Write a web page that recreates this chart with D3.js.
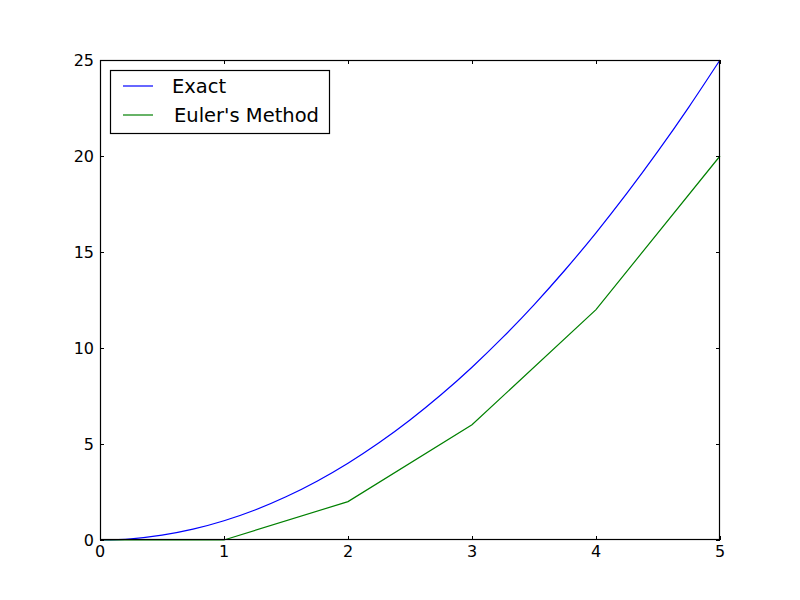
<!DOCTYPE html>
<html><head><meta charset="utf-8">
<script src="https://cdn.jsdelivr.net/npm/d3@7"></script>
<style>body{margin:0;background:#fff}svg{display:block}text{font-family:"DejaVu Sans",sans-serif}</style>
</head><body>
<svg id="c" width="800" height="600"></svg>
<script>
const exactX = [0,0.25,0.5,0.75,1,1.25,1.5,1.75,2,2.25,2.5,2.75,3,3.25,3.5,3.75,4,4.25,4.5,4.75,5];
const exactY = [0,0.0625,0.25,0.5625,1,1.5625,2.25,3.0625,4,5.0625,6.25,7.5625,9,10.5625,12.25,14.0625,16,18.0625,20.25,22.5625,25];
const eulerX = [0,1,2,3,4,5];
const eulerY = [0,0,2,6,12,20];
const xTicks = [0,1,2,3,4,5];
const yTicks = [0,5,10,15,20,25];
const seriesNames = ["Exact","Euler's Method"];
const colors = ["#0000ff","#008000"];

const svg = d3.select("#c");
const L=100,R=720,T=60,B=540;
const x = d3.scaleLinear().domain([0,5]).range([L,R]);
const y = d3.scaleLinear().domain([0,25]).range([B,T]);
const smooth = d3.line().x(d=>x(d[0])).y(d=>y(d[1])).curve(d3.curveMonotoneX);
const line = d3.line().x(d=>x(d[0])).y(d=>y(d[1]));

const series = [exactX.map((v,i)=>[v,exactY[i]]), eulerX.map((v,i)=>[v,eulerY[i]])];
series.forEach((s,i)=>{
  svg.append("path").attr("d",(i===0?smooth:line)(s)).attr("fill","none").attr("stroke",colors[i]).attr("stroke-width",1.2);
});

const g = svg.append("g").attr("stroke","#000").attr("stroke-width",1);
xTicks.forEach(t=>{
  const px = Math.round(x(t))+0.5;
  g.append("line").attr("x1",px).attr("x2",px).attr("y1",B).attr("y2",B-4);
  g.append("line").attr("x1",px).attr("x2",px).attr("y1",T).attr("y2",T+4);
  svg.append("text").attr("x",x(t)).attr("y",B+17).attr("text-anchor","middle").attr("font-size",16).text(t);
});
yTicks.forEach(t=>{
  const py = Math.round(y(t))+0.5;
  g.append("line").attr("x1",L).attr("x2",L+4).attr("y1",py).attr("y2",py);
  g.append("line").attr("x1",R).attr("x2",R-4).attr("y1",py).attr("y2",py);
  svg.append("text").attr("x",L-6).attr("y",y(t)+5.5).attr("text-anchor","end").attr("font-size",16).text(t);
});
svg.append("rect").attr("x",L+0.5).attr("y",T+0.5).attr("width",R-L-1).attr("height",B-T-1)
  .attr("fill","none").attr("stroke","#000").attr("stroke-width",1.2);

const lg = svg.append("g");
lg.append("rect").attr("x",110.5).attr("y",70.5).attr("width",219).attr("height",63)
  .attr("fill","#fff").attr("stroke","#000").attr("stroke-width",1.2);
const ly = [86,115];
const lx = [172,174];
seriesNames.forEach((n,i)=>{
  lg.append("line").attr("x1",123).attr("x2",153).attr("y1",ly[i]).attr("y2",ly[i]).attr("stroke",colors[i]).attr("stroke-width",1.2);
  lg.append("text").attr("x",lx[i]).attr("y",ly[i]+7).attr("font-size",19.5).text(n);
});
</script>
</body></html>
